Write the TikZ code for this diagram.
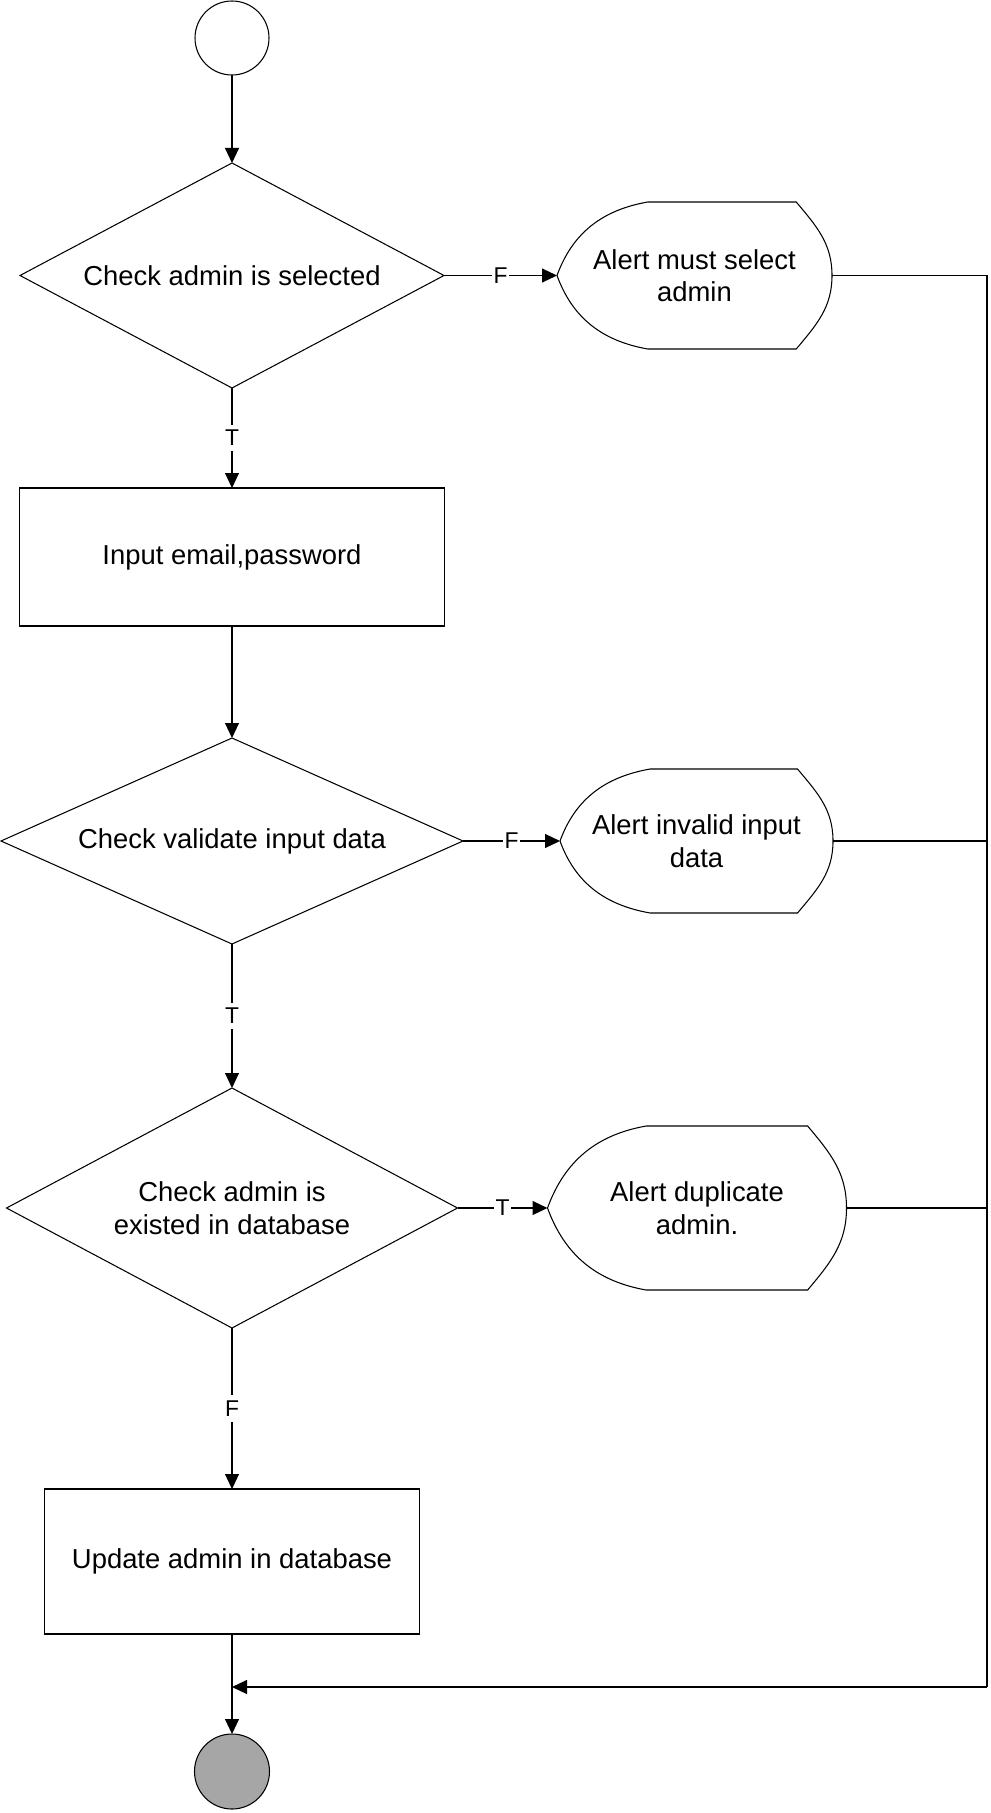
\documentclass[tikz,border=0pt]{standalone}
\usepackage{fontspec}
\setmainfont{Liberation Sans}
\usetikzlibrary{positioning,shapes.geometric,arrows.meta,calc}
\definecolor{endgray}{RGB}{166,166,166}

\begin{document}
\begin{tikzpicture}[line width=0.6pt,
    every node/.style={font=\fontsize{15.6pt}{18.5pt}\selectfont, align=center, outer sep=0pt},
    decision/.style={diamond, draw, inner sep=0pt},
    process/.style={rectangle, draw},
    alertbox/.style={rectangle, inner sep=0pt},
    arr/.style={-{Triangle[length=0.3cm,width=0.28cm]}},
    lbl/.style={fill=white, inner xsep=1pt, inner ysep=3pt, font=\fontsize{13pt}{14pt}\selectfont}]

\useasboundingbox (0,0) rectangle (19.8,-36.26);

\node (start) [circle, draw, minimum size=1.48cm, inner sep=0pt] at (4.64,-0.76) {};

\node (chkSel) [decision, minimum width=8.48cm, minimum height=4.5cm, aspect=1.88, below=1.76cm of start] {Check admin is selected};
\node (inEmail) [process, minimum width=8.51cm, minimum height=2.76cm, below=2cm of chkSel] {Input email,password};
\node (chkValid) [decision, minimum width=9.24cm, minimum height=4.12cm, aspect=2.24, below=2.24cm of inEmail] {Check validate input data};
\node (chkExist) [decision, minimum width=9.02cm, minimum height=4.8cm, aspect=1.88, below=2.88cm of chkValid] {Check admin is\\existed in database};
\node (upd) [process, minimum width=7.5cm, minimum height=2.9cm, below=3.22cm of chkExist] {Update admin in database};
\node (stop) [circle, draw, fill=endgray, minimum size=1.5cm, inner sep=0pt, below=2cm of upd] {};

% alerts on the right
\node (alertSel) [alertbox, minimum width=5.5cm, minimum height=2.94cm, right=2.26cm of chkSel] {Alert must select\\admin};
\node (alertInv) [alertbox, minimum width=5.46cm, minimum height=2.88cm, right=1.94cm of chkValid] {Alert invalid input\\data};
\node (alertDup) [alertbox, minimum width=5.98cm, minimum height=3.28cm, right=1.8cm of chkExist] {Alert duplicate\\admin.};

\foreach \a in {alertSel,alertInv,alertDup}
  \draw (\a.west) to[out=70,in=190] ($(\a.north west)!0.33!(\a.north east)$)
    -- ($(\a.north west)!0.87!(\a.north east)$) to[out=-50,in=90] (\a.east)
    to[out=-90,in=50] ($(\a.south west)!0.87!(\a.south east)$)
    -- ($(\a.south west)!0.33!(\a.south east)$) to[out=170,in=-70] (\a.west);

\coordinate (rail) at (19.74,-33.74);

\draw[arr] (start) -- (chkSel);
\draw[arr] (chkSel) -- node[lbl] {T} (inEmail);
\draw[arr] (inEmail) -- (chkValid);
\draw[arr] (chkValid) -- node[lbl] {T} (chkExist);
\draw[arr] (chkExist) -- node[lbl] {F} (upd);
\draw[arr] (upd) -- (stop);

\draw[arr] (chkSel.east) -- node[lbl] {F} (alertSel.west);
\draw[arr] (chkValid.east) -- node[lbl] {F} (alertInv.west);
\draw[arr] (chkExist.east) -- node[lbl] {T} (alertDup.west);

\draw (alertSel.east) -| (rail);
\draw (alertInv.east) -- (alertInv.east -| rail);
\draw (alertDup.east) -- (alertDup.east -| rail);
\draw[arr] (rail) -- (rail -| upd);

\end{tikzpicture}
\end{document}
